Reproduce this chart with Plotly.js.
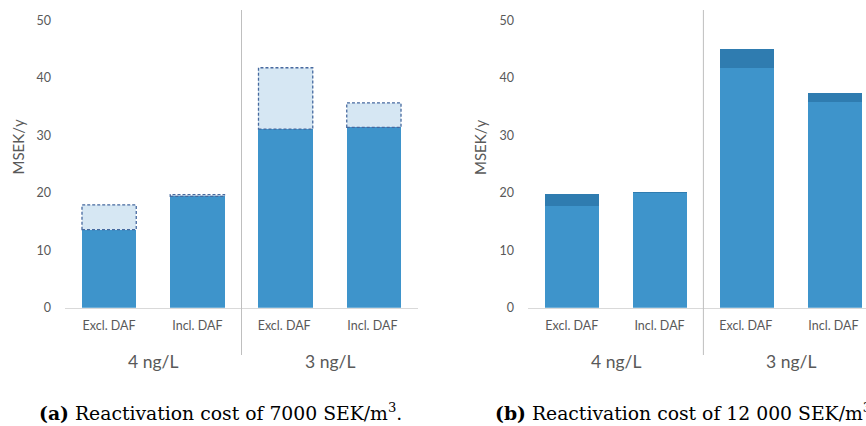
<!DOCTYPE html>
<html>
<head>
<meta charset="utf-8">
<script src="https://cdn.plot.ly/plotly-3.0.1.min.js"></script>
<style>html,body{margin:0;padding:0;background:#fff;}#chart{width:866px;height:426px;}</style>
</head>
<body>
<div id="chart"></div>
<script>
// Data
var categories = ["Excl. DAF", "Incl. DAF", "Excl. DAF ", "Incl. DAF "];
var groupLabels = ["4 ng/L", "3 ng/L"];
var yTicks = [0, 10, 20, 30, 40, 50];
// (a) 7000 SEK/m3
var aBase = [13.6, 19.4, 31.1, 31.4];
var aExtra = [4.3, 0.3, 10.7, 4.3];
// (b) 12 000 SEK/m3
var bBase = [17.8, 20.0, 41.8, 35.8];
var bExtra = [2.0, 0.2, 3.2, 1.6];
var captionA = "<b>(a)</b> Reactivation cost of 7000 SEK/m<sup>3</sup>.";
var captionB = "<b>(b)</b> Reactivation cost of 12 000 SEK/m<sup>3</sup>.";
var yTitle = "MSEK/y";

var blue = "#3E94CB", darkBlue = "#2F7CB0", lightBlue = "#D6E7F3", dashColor = "#46699F";
var sans = "Lato, 'Open Sans', sans-serif";
var tickFont = {family: sans, size: 12.5, color: "#595959"};
var bargap = 0.385;
var barW = 1 - bargap;

var traces = [
  {type: "bar", x: categories, y: aBase, xaxis: "x", yaxis: "y", marker: {color: blue}, hoverinfo: "skip"},
  {type: "bar", x: categories, y: aExtra, xaxis: "x", yaxis: "y", marker: {color: lightBlue}, hoverinfo: "skip"},
  {type: "bar", x: categories, y: bBase, xaxis: "x2", yaxis: "y2", marker: {color: blue}, hoverinfo: "skip"},
  {type: "bar", x: categories, y: bExtra, xaxis: "x2", yaxis: "y2", marker: {color: darkBlue}, hoverinfo: "skip"}
];

var shapes = [];
for (var i = 0; i < aBase.length; i++) {
  shapes.push({type: "rect", xref: "x", yref: "y", x0: i - barW / 2, x1: i + barW / 2,
    y0: aBase[i], y1: aBase[i] + aExtra[i], line: {color: dashColor, width: 1.3, dash: "3px,2px"}, fillcolor: "rgba(0,0,0,0)"});
}
var yBot = (426 - 355) / 426, yTop = (426 - 10) / 426;
shapes.push({type: "line", xref: "x", yref: "paper", x0: 1.5, x1: 1.5, y0: yBot, y1: yTop, line: {color: "#BFBFBF", width: 1}});
shapes.push({type: "line", xref: "x2", yref: "paper", x0: 1.5, x1: 1.5, y0: yBot, y1: yTop, line: {color: "#BFBFBF", width: 1}});

var gy = (426 - 361) / 426;
var groupFont = {family: sans, size: 17.5, color: "#595959"};
var titleFont = {family: sans, size: 15, color: "#595959"};
var capFont = {family: "'DejaVu Serif', 'Liberation Serif', serif", size: 18.8, color: "#000"};
function ann(xref, x, y, text, font, extra) {
  var a = {xref: xref, yref: "paper", x: x, y: y, text: text, showarrow: false, font: font, xanchor: "center", yanchor: "middle"};
  for (var k in (extra || {})) a[k] = extra[k];
  return a;
}
var annotations = [
  ann("x", 0.5, gy, groupLabels[0], groupFont),
  ann("x", 2.5, gy, groupLabels[1], groupFont),
  ann("x2", 0.5, gy, groupLabels[0], groupFont),
  ann("x2", 2.5, gy, groupLabels[1], groupFont),
  ann("paper", 17.5 / 866, (426 - 147) / 426, yTitle, titleFont, {textangle: -90}),
  ann("paper", 480 / 866, (426 - 147) / 426, yTitle, titleFont, {textangle: -90}),
  ann("paper", 36.5 / 866, (426 - 412) / 426, captionA, capFont, {xanchor: "left"}),
  ann("paper", 493 / 866, (426 - 412) / 426, captionB, capFont, {xanchor: "left"})
];

var yDom = [(426 - 307.7) / 426, (426 - 20.7) / 426];
function yAxis(anchor) {
  return {domain: yDom, range: [0, 50], tickvals: yTicks, showgrid: false, zeroline: false, showline: false,
    tickfont: tickFont, ticks: "", ticklabelstandoff: 13, anchor: anchor, fixedrange: true};
}
function xAxis(domain, anchor, range) {
  return {domain: domain, range: range, type: "category", showgrid: false, zeroline: false, showline: true,
    linecolor: "#D9D9D9", linewidth: 1, tickfont: tickFont, ticks: "", ticklabelstandoff: 6, anchor: anchor, fixedrange: true};
}

var layout = {
  width: 866, height: 426,
  margin: {l: 0, r: 0, t: 0, b: 0},
  paper_bgcolor: "#fff", plot_bgcolor: "rgba(0,0,0,0)",
  barmode: "stack", bargap: bargap,
  showlegend: false,
  xaxis: xAxis([65 / 866, 418 / 866], "y", [-0.5, 3.5]),
  yaxis: yAxis("x"),
  xaxis2: xAxis([528 / 866, 1], "y2", [-0.5, -0.5 + (866 - 528) / 87.7]),
  yaxis2: yAxis("x2"),
  shapes: shapes,
  annotations: annotations
};

Plotly.newPlot("chart", traces, layout, {staticPlot: true, displayModeBar: false});
</script>
</body>
</html>
